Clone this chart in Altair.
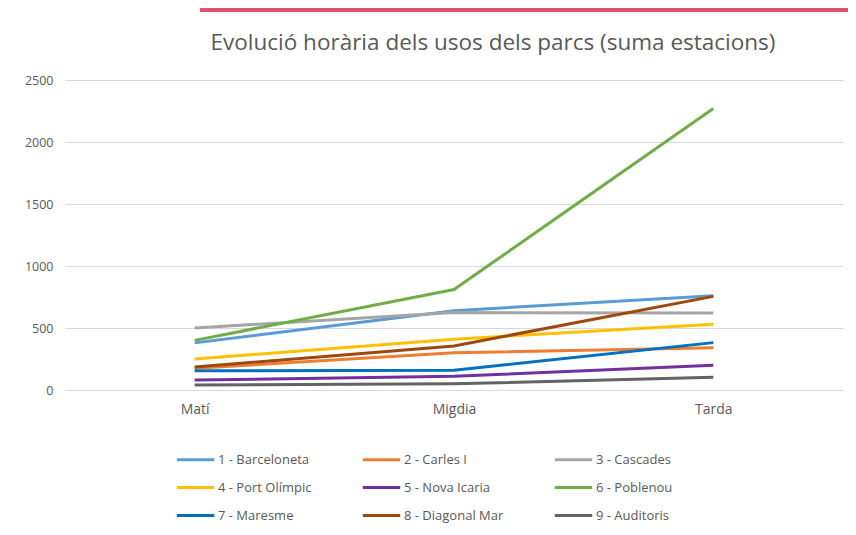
import altair as alt
import pandas as pd

periods = ["Matí", "Migdia", "Tarda"]
parks = ["1 - Barceloneta", "2 - Carles I", "3 - Cascades", "4 - Port Olímpic",
         "5 - Nova Icaria", "6 - Poblenou", "7 - Maresme", "8 - Diagonal Mar", "9 - Auditoris"]
barceloneta = [380, 640, 760]
carles = [175, 300, 340]
cascades = [500, 625, 620]
port_olimpic = [250, 410, 530]
nova_icaria = [80, 110, 200]
poblenou = [400, 810, 2270]
maresme = [155, 160, 382]
diagonal_mar = [185, 355, 755]
auditoris = [40, 50, 102]
series = [barceloneta, carles, cascades, port_olimpic, nova_icaria, poblenou,
          maresme, diagonal_mar, auditoris]
colors = ["#5B9BD5", "#ED7D31", "#A5A5A5", "#FFC000", "#7030A0", "#70AD47",
          "#0070C0", "#9E480E", "#636363"]
title_text = "Evolució horària dels usos dels parcs (suma estacions)"

rows = []
for name, vals in zip(parks, series):
    for p, v in zip(periods, vals):
        rows.append({"park": name, "period": p, "value": v})
df = pd.DataFrame(rows)

font = "Open Sans"
txt = "#595959"

lines = alt.Chart(df).mark_line(strokeWidth=3).encode(
    x=alt.X("period:N", sort=periods, title=None,
            axis=alt.Axis(labelAngle=0, domain=False, ticks=False, labelPadding=12,
                          labelFontSize=14, labelColor=txt, labelFont=font)),
    y=alt.Y("value:Q", title=None, scale=alt.Scale(domain=[0, 2500], nice=False),
            axis=alt.Axis(values=[0, 500, 1000, 1500, 2000, 2500], format="d",
                          domain=False, ticks=False,
                          labelPadding=12, labelFontSize=12.5, labelColor=txt, labelFont=font,
                          gridColor="#D9D9D9", gridWidth=1)),
    color=alt.Color("park:N", sort=parks,
                    scale=alt.Scale(domain=parks, range=colors),
                    legend=alt.Legend(title=None, orient="none", legendX=110, legendY=359,
                                      direction="horizontal",
                                      columns=3, columnPadding=44, rowPadding=0,
                                      symbolType="stroke", symbolSize=1400,
                                      symbolStrokeWidth=3, labelOffset=2,
                                      labelFontSize=13, labelColor=txt, labelFont=font,
                                      gridAlign="each", labelLimit=200)),
    detail="park:N",
)

redline = alt.Chart(df).mark_rule(color="#E0516B", strokeWidth=3).encode(
    x=alt.value(135), x2=alt.value(790), y=alt.value(-70)
)

title = alt.Chart(pd.DataFrame({"t": [title_text]})).mark_text(
    font=font, fontSize=22.5, color=txt, align="center", baseline="middle"
).encode(text="t:N", x=alt.value(428), y=alt.value(-37))

chart = alt.layer(redline, title, lines).properties(
    width=778, height=310,
    autosize=alt.AutoSizeParams(type="none"),
    padding={"left": 57, "top": 72, "right": 5, "bottom": 137},
).configure_view(stroke=None)

chart.save("out.html", embed_options={"renderer": "svg", "actions": False})
